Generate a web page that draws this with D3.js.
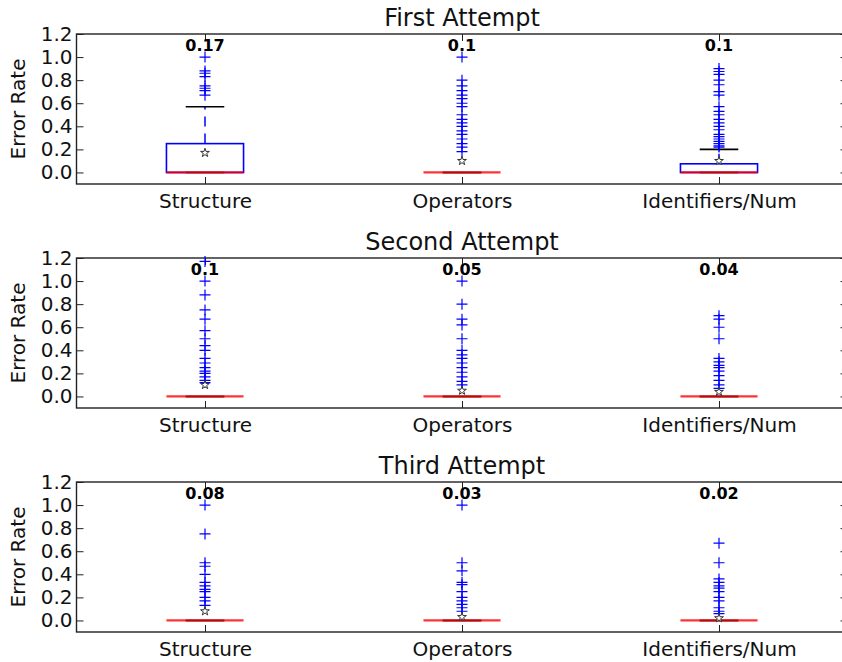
<!DOCTYPE html>
<html>
<head>
<meta charset="utf-8">
<script src="https://cdn.jsdelivr.net/npm/d3@7"></script>
<style>
  body { margin: 0; background: #fff; }
  svg { display: block; font-family: "DejaVu Sans", sans-serif; }
</style>
</head>
<body>
<div id="chart"></div>
<script>
const attempts = ["First Attempt", "Second Attempt", "Third Attempt"];
const categories = ["Structure", "Operators", "Identifiers/Num"];
const yTicks = [0.0, 0.2, 0.4, 0.6, 0.8, 1.0, 1.2];

// box stats, one row per attempt, one column per category
const q1Values = [[0, 0, 0], [0, 0, 0], [0, 0, 0]];
const medianValues = [[0, 0, 0], [0, 0, 0], [0, 0, 0]];
const q3Values = [[0.25, 0, 0.075], [0, 0, 0], [0, 0, 0]];
const whiskerLow = [[0, 0, 0], [0, 0, 0], [0, 0, 0]];
const whiskerHigh = [[0.57, 0, 0.2], [0, 0, 0], [0, 0, 0]];
const meanValues = [[0.17, 0.1, 0.1], [0.1, 0.05, 0.04], [0.08, 0.03, 0.02]];

const outliersFirst = [
  [1.0, 0.88, 0.86, 0.83, 0.75, 0.73, 0.71, 0.67],
  [1.0, 0.8, 0.75, 0.71, 0.67, 0.64, 0.6, 0.57, 0.5, 0.46, 0.43, 0.4, 0.36, 0.33, 0.29, 0.25, 0.22, 0.18],
  [0.9, 0.875, 0.85, 0.8, 0.76, 0.7, 0.67, 0.57, 0.53, 0.5, 0.46, 0.43, 0.4, 0.37, 0.33, 0.31, 0.29, 0.27, 0.25, 0.23, 0.22]
];
const outliersSecond = [
  [1.17, 1.0, 0.88, 0.75, 0.67, 0.57, 0.5, 0.44, 0.4, 0.33, 0.29, 0.25, 0.22, 0.2, 0.17, 0.14, 0.12],
  [1.0, 0.8, 0.67, 0.62, 0.5, 0.4, 0.36, 0.33, 0.29, 0.25, 0.21, 0.17, 0.13, 0.1],
  [0.7, 0.67, 0.6, 0.5, 0.33, 0.3, 0.27, 0.25, 0.22, 0.18, 0.14, 0.1, 0.07]
];
const outliersThird = [
  [1.0, 0.75, 0.5, 0.47, 0.4, 0.33, 0.3, 0.27, 0.25, 0.2, 0.17, 0.13],
  [1.0, 0.5, 0.43, 0.33, 0.31, 0.25, 0.2, 0.17, 0.14, 0.11, 0.08],
  [0.67, 0.5, 0.36, 0.33, 0.3, 0.28, 0.25, 0.2, 0.17, 0.11, 0.08, 0.06]
];
const outliers = [outliersFirst, outliersSecond, outliersThird];

const width = 842, height = 662;
const panelTops = [34, 258, 482];
const panelHeight = 150;
const boxHalf = 0.15, capHalf = 0.075;

const svg = d3.select("#chart").append("svg")
  .attr("width", width)
  .attr("height", height);

const x = d3.scaleLinear().domain([0.5, 3.5]).range([76.5, 847.5]);

attempts.forEach((title, p) => {
  const top = panelTops[p];
  const y = d3.scaleLinear().domain([-0.1, 1.2]).range([top + panelHeight, top]);
  const g = svg.append("g").attr("class", "panel");

  // ticks, all pointing inward
  let yAxis = d3.axisLeft(y).tickValues(yTicks).tickFormat(d3.format(".1f"))
    .tickSizeInner(-7).tickSizeOuter(0).tickPadding(4);
  let gy = g.append("g").attr("transform", "translate(" + x.range()[0] + ",0)").call(yAxis);
  gy.select(".domain").remove();
  gy.selectAll("text").attr("font-size", 20).attr("fill", "#111").attr("font-family", "DejaVu Sans");
  gy.selectAll("line").attr("stroke", "#222");

  let gyr = g.append("g").attr("transform", "translate(" + x.range()[1] + ",0)")
    .call(d3.axisRight(y).tickValues(yTicks).tickSizeInner(-7).tickSizeOuter(0).tickFormat(""));
  gyr.select(".domain").remove();
  gyr.selectAll("line").attr("stroke", "#222");

  let xAxis = d3.axisBottom(x).tickValues([1, 2, 3]).tickFormat((d, i) => categories[i])
    .tickSizeInner(-7).tickSizeOuter(0).tickPadding(10);
  let gx = g.append("g").attr("transform", "translate(0," + (top + panelHeight) + ")").call(xAxis);
  gx.select(".domain").remove();
  gx.selectAll("text").attr("font-size", 20).attr("fill", "#111").attr("font-family", "DejaVu Sans");
  gx.selectAll("line").attr("stroke", "#222");

  let gxt = g.append("g").attr("transform", "translate(0," + top + ")")
    .call(d3.axisTop(x).tickValues([1, 2, 3]).tickSizeInner(-7).tickSizeOuter(0).tickFormat(""));
  gxt.select(".domain").remove();
  gxt.selectAll("line").attr("stroke", "#222");

  // frame
  g.append("rect")
    .attr("x", x.range()[0]).attr("y", top)
    .attr("width", x.range()[1] - x.range()[0]).attr("height", panelHeight)
    .attr("fill", "none").attr("stroke", "#222").attr("stroke-width", 1.4);

  // title and y label
  g.append("text")
    .attr("x", (x.range()[0] + x.range()[1]) / 2).attr("y", top - 8)
    .attr("text-anchor", "middle").attr("font-size", 24).attr("fill", "#111")
    .text(title);

  g.append("text")
    .attr("transform", "translate(25," + (top + panelHeight / 2) + ") rotate(-90)")
    .attr("text-anchor", "middle").attr("font-size", 20).attr("fill", "#111")
    .text("Error Rate");

  categories.forEach((cat, i) => {
    const pos = i + 1;
    const b = g.append("g").attr("class", "box");

    // whiskers
    b.append("line")
      .attr("x1", x(pos)).attr("x2", x(pos))
      .attr("y1", y(q3Values[p][i])).attr("y2", y(whiskerHigh[p][i]))
      .attr("stroke", "#0000ff").attr("stroke-width", 1.5).attr("stroke-dasharray", "10,7");
    b.append("line")
      .attr("x1", x(pos)).attr("x2", x(pos))
      .attr("y1", y(q1Values[p][i])).attr("y2", y(whiskerLow[p][i]))
      .attr("stroke", "#0000ff").attr("stroke-width", 1.5).attr("stroke-dasharray", "10,7");

    // box
    b.append("rect")
      .attr("x", x(pos - boxHalf)).attr("y", y(q3Values[p][i]))
      .attr("width", x(pos + boxHalf) - x(pos - boxHalf))
      .attr("height", y(q1Values[p][i]) - y(q3Values[p][i]))
      .attr("fill", "none").attr("stroke", "#0000ff").attr("stroke-width", 1.6);

    // caps
    [whiskerHigh[p][i], whiskerLow[p][i]].forEach(v => {
      b.append("line")
        .attr("x1", x(pos - capHalf)).attr("x2", x(pos + capHalf))
        .attr("y1", y(v)).attr("y2", y(v))
        .attr("stroke", "#000").attr("stroke-width", 1.6);
    });

    // median
    b.append("line")
      .attr("x1", x(pos - boxHalf)).attr("x2", x(pos + boxHalf))
      .attr("y1", y(medianValues[p][i])).attr("y2", y(medianValues[p][i]))
      .attr("stroke", "#ff0000").attr("stroke-opacity", 0.8).attr("stroke-width", 2.2);

    // outliers as '+'
    b.selectAll("path.flier")
      .data(outliers[p][i]).enter()
      .append("path")
      .attr("class", "flier")
      .attr("transform", d => "translate(" + x(pos) + "," + y(d) + ")")
      .attr("d", "M-5.5,0H5.5M0,-5.5V5.5")
      .attr("stroke", "#0000ff").attr("stroke-width", 1.2).attr("fill", "none");

    // mean star
    b.append("path")
      .attr("transform", "translate(" + x(pos) + "," + y(meanValues[p][i]) + ")")
      .attr("d", d3.symbol(d3.symbolStar, 24)())
      .attr("fill", "#fff").attr("stroke", "#333").attr("stroke-width", 1);

    // mean label
    b.append("text")
      .attr("x", x(pos)).attr("y", y(1.1))
      .attr("dy", "0.36em")
      .attr("text-anchor", "middle").attr("font-size", 16).attr("font-weight", "bold")
      .attr("fill", "#000")
      .text(String(meanValues[p][i]));
  });
});
</script>
</body>
</html>
